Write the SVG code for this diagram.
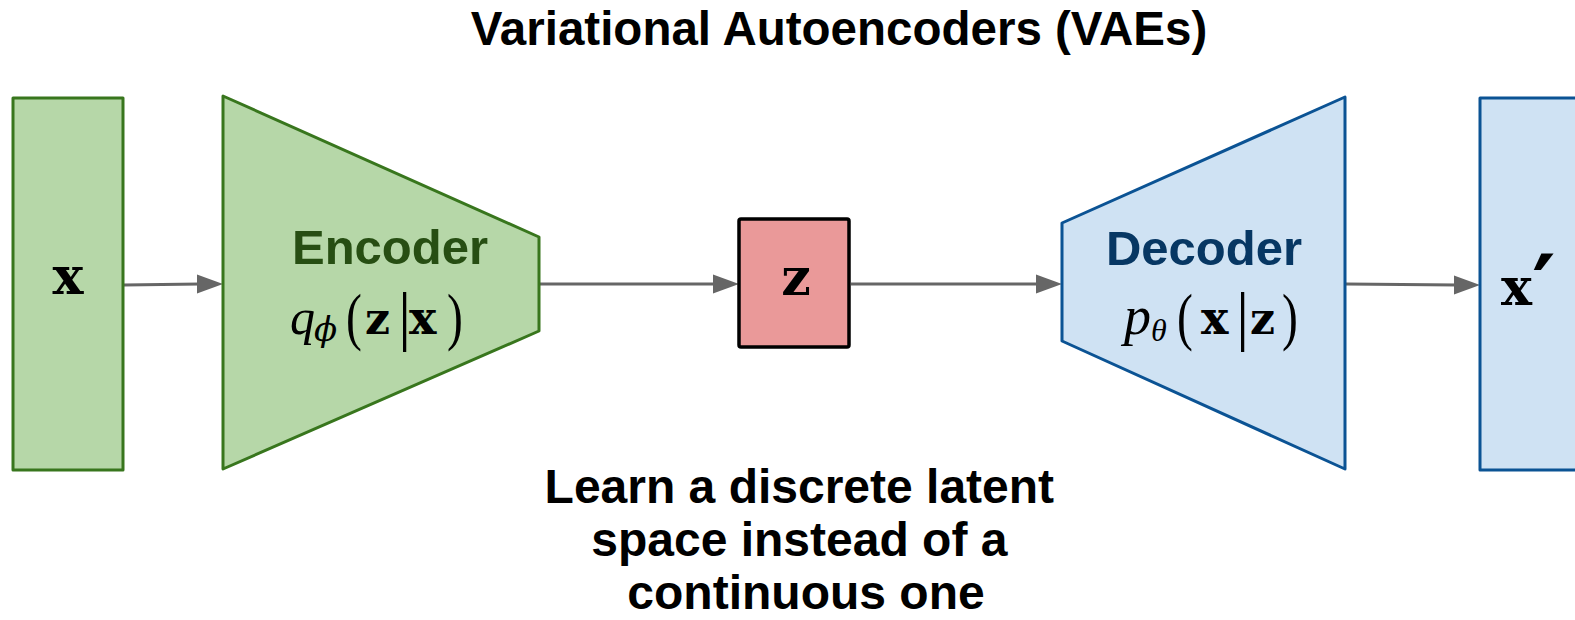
<svg xmlns="http://www.w3.org/2000/svg" width="1575" height="620" viewBox="0 0 1575 620">
  <style>
    .title { font-family: "Liberation Sans", Arial, sans-serif; font-weight: bold; font-size: 47.5px; fill: #000; }
    .label { font-family: "Liberation Sans", Arial, sans-serif; font-weight: bold; font-size: 49px; }
    .caption { font-family: "Liberation Sans", Arial, sans-serif; font-weight: bold; font-size: 48px; fill: #000; }
    .vec { font-family: "DejaVu Serif", "Liberation Serif", serif; font-weight: bold; fill: #000; }
    .var { font-family: "Liberation Serif", "DejaVu Serif", serif; font-style: italic; fill: #000; }
    .sym { font-family: "Liberation Serif", "DejaVu Serif", serif; fill: #000; font-size: 66px; }
    .paren { font-family: "Liberation Serif", "DejaVu Serif", serif; fill: #000; font-size: 56px; }
    .enc { fill: #b6d7a8; stroke: #38761d; stroke-width: 3; stroke-linejoin: round; }
    .dec { fill: #cfe2f3; stroke: #0b5394; stroke-width: 3; stroke-linejoin: round; }
    .lat { fill: #ea9999; stroke: #000; stroke-width: 3.5; }
    .edge { stroke: #666; stroke-width: 3; fill: none; }
    .head { fill: #666; }
  </style>
  <rect width="1575" height="620" fill="#fff"/>

  <text class="title" x="839" y="45" text-anchor="middle">Variational Autoencoders (VAEs)</text>

  <g id="connectors">
    <line class="edge" x1="124" y1="285" x2="200" y2="284"/>
    <path class="head" d="M197,274.5 L223,284 L197,293.5 z"/>
    <line class="edge" x1="540" y1="284" x2="715" y2="284"/>
    <path class="head" d="M713,274.5 L739,284 L713,293.5 z"/>
    <line class="edge" x1="851" y1="284" x2="1038" y2="284"/>
    <path class="head" d="M1036,274.5 L1062,284 L1036,293.5 z"/>
    <line class="edge" x1="1346" y1="284" x2="1457" y2="285"/>
    <path class="head" d="M1454,275.5 L1480,285 L1454,294.5 z"/>
  </g>

  <g id="input-x">
    <rect class="enc" x="13" y="98" width="110" height="372"/>
    <text class="vec" x="68" y="294" font-size="52" text-anchor="middle">x</text>
  </g>

  <g id="encoder">
    <polygon class="enc" points="223,96 539,237 539,331 223,469"/>
    <text class="label" x="390" y="264" text-anchor="middle" fill="#274e13">Encoder</text>
    <text class="var" x="290" y="334" font-size="50">q</text>
    <text x="314" y="341" font-family="DejaVu Serif, serif" font-style="italic" font-size="34" fill="#000">ϕ</text>
    <text class="paren" transform="translate(346,338) scale(0.85,1.15)">(</text>
    <text class="vec" x="365" y="334" font-size="44">z</text>
    <text class="sym" x="398" y="338">|</text>
    <text class="vec" x="409" y="334" font-size="46">x</text>
    <text class="paren" transform="translate(447,338) scale(0.85,1.15)">)</text>
  </g>

  <g id="latent-z">
    <rect class="lat" x="739" y="219" width="110" height="128" rx="2"/>
    <text class="vec" x="796" y="295" font-size="52" text-anchor="middle">z</text>
  </g>

  <g id="decoder">
    <polygon class="dec" points="1062,223 1345,97 1345,469 1062,341"/>
    <text class="label" x="1204" y="265" text-anchor="middle" fill="#073763">Decoder</text>
    <text class="var" x="1124" y="334" font-size="54">p</text>
    <text class="var" x="1151" y="341" font-size="32">θ</text>
    <text class="paren" transform="translate(1177,338) scale(0.85,1.15)">(</text>
    <text class="vec" x="1201" y="334" font-size="46">x</text>
    <text class="sym" x="1236" y="338">|</text>
    <text class="vec" x="1250" y="334" font-size="44">z</text>
    <text class="paren" transform="translate(1282,338) scale(0.85,1.15)">)</text>
  </g>

  <g id="output-x-prime">
    <rect class="dec" x="1480" y="98" width="110" height="372"/>
    <text class="vec" x="1501" y="305" font-size="52">x</text>
    <text class="vec" x="1532" y="319" font-size="90">′</text>
  </g>

  <g id="caption">
    <text class="caption" text-anchor="middle">
      <tspan x="806" y="503">Learn a discrete latent</tspan>
      <tspan x="806" y="556">space instead of a</tspan>
      <tspan x="806" y="609">continuous one</tspan>
    </text>
  </g>
</svg>
